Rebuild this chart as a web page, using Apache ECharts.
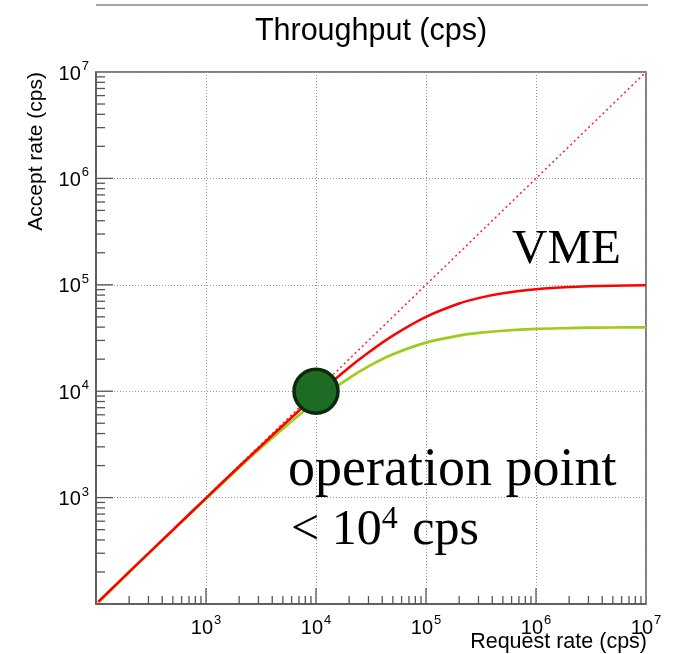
<!DOCTYPE html>
<html>
<head>
<meta charset="utf-8">
<style>html,body{margin:0;padding:0;background:#fff;}#c{width:679px;height:654px;}</style>
<script src="https://cdn.jsdelivr.net/npm/echarts@6/dist/echarts.min.js"></script>
</head>
<body>
<div id="c"></div>
<script>
// ---- data ----
var requestRate = [105, 200, 300, 500, 1000, 2000, 3000, 5000, 10000, 20000, 30000, 50000, 100000, 200000, 300000, 500000, 1000000, 2000000, 3000000, 5000000, 10000000];
var vmeAccept   = [105, 200, 299, 497, 990, 1960, 2910, 4760, 9100, 16700, 23100, 33300, 50000, 66700, 75000, 83300, 90900, 95200, 96800, 98000, 99000];
var otherAccept = [104, 199, 298, 494, 976, 1905, 2800, 4450, 8000, 13300, 17100, 22200, 28600, 33300, 35300, 37000, 38500, 39200, 39500, 39700, 39800];
var idealLine   = [[100, 100], [10000000, 10000000]];
var operationPoint = [[10000, 10000]];
var decades = [100, 1000, 10000, 100000, 1000000];
var majorTicks = [[1000], [10000], [100000], [1000000]];
var minorMultipliers = [2, 3, 4, 5, 6, 7, 8, 9];
var xMin = 100, xMax = 10000000, yMin = 100, yMax = 10000000;

var minorTicks = [];
decades.forEach(function (d) { minorMultipliers.forEach(function (m) { minorTicks.push([d * m]); }); });

function expLabel(v) {
  var e = Math.round(Math.log10(v));
  if (e <= 2) return '';
  return '{b|10}{s|' + e + '}';
}
var richLbl = {
  b: { fontFamily: 'Liberation Sans', fontSize: 20, color: '#000', lineHeight: 24, verticalAlign: 'bottom' },
  s: { fontFamily: 'Liberation Sans', fontSize: 13, color: '#000', lineHeight: 24, verticalAlign: 'top', padding: [0, 0, 0, 1] }
};

function tickSeries(name, data, len, vertical) {
  return {
    type: 'custom', name: name, silent: true, z: 7, data: data,
    renderItem: function (params, api) {
      var p = vertical ? api.coord([api.value(0), yMin]) : api.coord([xMin, api.value(0)]);
      var shape = vertical ? { x1: p[0], y1: p[1], x2: p[0], y2: p[1] - len } : { x1: p[0], y1: p[1], x2: p[0] + len, y2: p[1] };
      return { type: 'line', shape: shape, style: { stroke: '#555', lineWidth: 1.3 } };
    }
  };
}

var chart = echarts.init(document.getElementById('c'), null, { renderer: 'canvas' });
var pairs = function (ys) { return requestRate.map(function (x, i) { return [x, ys[i]]; }); };

chart.setOption({
  animation: false,
  grid: { left: 96, right: 33, top: 72, bottom: 50, containLabel: false, outerBoundsMode: 'none',
          show: true, borderColor: '#555', borderWidth: 1.5, backgroundColor: '#fff' },
  xAxis: {
    type: 'log', logBase: 10, min: xMin, max: xMax,
    axisLine: { lineStyle: { color: '#555', width: 1.5 } },
    axisTick: { show: false },
    axisLabel: { formatter: expLabel, rich: richLbl, margin: 10, showMinLabel: false },
    splitLine: { show: true, lineStyle: { color: '#999', type: [1, 2], width: 1 } }
  },
  yAxis: {
    type: 'log', logBase: 10, min: yMin, max: yMax,
    name: 'Accept rate (cps)', nameLocation: 'end', nameRotate: 90, nameGap: 0,
    nameTextStyle: { fontFamily: 'Liberation Sans', fontSize: 21, color: '#000', align: 'right', verticalAlign: 'bottom', padding: [0, 0, 49, 0] },
    axisLine: { lineStyle: { color: '#555', width: 1.5 } },
    axisTick: { show: false },
    axisLabel: { formatter: expLabel, rich: richLbl, margin: 7, showMinLabel: false },
    splitLine: { show: true, lineStyle: { color: '#999', type: [1, 2], width: 1 } }
  },
  graphic: [
    { type: 'line', shape: { x1: 96, y1: 5, x2: 648, y2: 5 }, style: { stroke: '#888', lineWidth: 1.5 }, silent: true },
    { type: 'text', x: 371, y: 16, silent: true, z: 100,
      style: { text: 'Throughput (cps)', font: '30.5px "Liberation Sans"', fill: '#000', align: 'center', verticalAlign: 'top' } },
    { type: 'text', x: 647, y: 631, silent: true, z: 100,
      style: { text: 'Request rate (cps)', font: '21.5px "Liberation Sans"', fill: '#000', align: 'right', verticalAlign: 'top' } },
    { type: 'text', left: 512, top: 226, silent: true, z: 100,
      style: { text: 'VME', font: '49px "Liberation Serif"', fill: '#000' } },
    { type: 'text', left: 288, top: 444, silent: true, z: 100,
      style: { text: 'operation point', font: '54px "Liberation Serif"', fill: '#000' } },
    { type: 'text', left: 291, top: 500, silent: true, z: 100,
      style: {
        text: '{a|< 10}{s|4}{a| cps}',
        rich: {
          a: { font: '50px "Liberation Serif"', fill: '#000', lineHeight: 56, verticalAlign: 'bottom' },
          s: { font: '32px "Liberation Serif"', fill: '#000', lineHeight: 56, verticalAlign: 'top', padding: [4, 2, 0, 0] }
        }
      } }
  ],
  series: [
    tickSeries('xminor', minorTicks, 8, true),
    tickSeries('yminor', minorTicks, 9, false),
    tickSeries('xmajor', majorTicks, 16, true),
    tickSeries('ymajor', majorTicks, 17, false),
    { type: 'line', name: 'ideal', data: idealLine, symbol: 'none', z: 4,
      lineStyle: { color: '#ff2020', width: 1.5, type: [2, 3] } },
    { type: 'line', name: 'other', data: pairs(otherAccept), symbol: 'none', smooth: 0.3, z: 5,
      lineStyle: { color: '#9dcc1a', width: 2.7 } },
    { type: 'line', name: 'VME', data: pairs(vmeAccept), symbol: 'none', smooth: 0.3, z: 6,
      lineStyle: { color: '#ff0000', width: 2.5 } },
    { type: 'scatter', name: 'operation', data: operationPoint, symbol: 'circle', symbolSize: 44, z: 10,
      itemStyle: { color: '#1e6b23', borderColor: '#0c2a0e', borderWidth: 3.5, opacity: 1 } }
  ]
});
</script>
</body>
</html>
